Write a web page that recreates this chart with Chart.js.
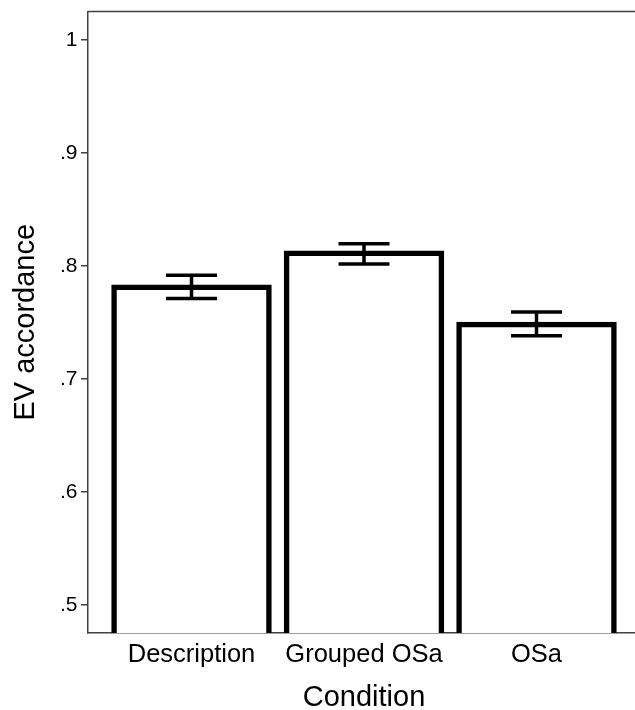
<!DOCTYPE html>
<html>
<head>
<meta charset="utf-8">
<script src="https://cdn.jsdelivr.net/npm/chart.js@4.4.1/dist/chart.umd.min.js"></script>
<style>
  html, body { margin: 0; padding: 0; overflow: hidden; background: #fff; }
  #wrap { width: 640px; height: 710px; }
</style>
</head>
<body>
<div id="wrap"><canvas id="evChart" width="640" height="710"></canvas></div>
<script>
// data
const categories = ['Description', 'Grouped OSa', 'OSa'];
const meanAccordance = [0.781, 0.811, 0.748];
const errLow = [0.771, 0.8015, 0.738];
const errHigh = [0.7915, 0.8195, 0.759];
const yTicks = [0.5, 0.6, 0.7, 0.8, 0.9, 1];

const axisColor = '#404040';
const fontFamily = '"Liberation Sans", Arial, sans-serif';

// error bars + top frame line
const errorBars = {
    id: 'errorBars',
    afterDatasetsDraw(chart) {
        const ctx = chart.ctx;
        const xs = chart.scales.x;
        const ys = chart.scales.y;
        ctx.save();
        ctx.strokeStyle = '#000';
        ctx.lineWidth = 3.5;
        categories.forEach((c, i) => {
            const x = xs.getPixelForValue(i + 1);
            const yLo = ys.getPixelForValue(errLow[i]);
            const yHi = ys.getPixelForValue(errHigh[i]);
            ctx.beginPath();
            ctx.moveTo(x, yLo);
            ctx.lineTo(x, yHi);
            ctx.moveTo(x - 25.5, yHi);
            ctx.lineTo(x + 25.5, yHi);
            ctx.moveTo(x - 25.5, yLo);
            ctx.lineTo(x + 25.5, yLo);
            ctx.stroke();
        });
        const area = chart.chartArea;
        ctx.strokeStyle = axisColor;
        ctx.lineWidth = 1.5;
        ctx.beginPath();
        ctx.moveTo(area.left, area.top);
        ctx.lineTo(area.right, area.top);
        ctx.stroke();
        ctx.restore();
    }
};

const ctx = document.getElementById('evChart').getContext('2d');
new Chart(ctx, {
    type: 'bar',
    data: {
        datasets: [{
            data: categories.map((c, i) => ({x: i + 1, y: meanAccordance[i]})),
            backgroundColor: '#fff',
            borderColor: '#000',
            borderWidth: 5.5,
            inflateAmount: 2.75,
            borderSkipped: 'start',
            barThickness: 155
        }]
    },
    options: {
        responsive: false,
        animation: false,
        layout: { padding: { top: 11.5, left: 0, right: 0, bottom: 0 } },
        plugins: {
            legend: { display: false },
            tooltip: { enabled: false }
        },
        scales: {
            x: {
                type: 'linear',
                offset: false,
                min: 0.4,
                max: 3.6,
                afterBuildTicks: (scale) => {
                    scale.ticks = categories.map((c, i) => ({value: i + 1}));
                },
                afterFit: (scale) => {
                    scale.height = 77;
                    scale.paddingLeft = 0;
                    scale.paddingRight = 0;
                },
                ticks: {
                    callback: (v) => categories[v - 1],
                    color: '#000',
                    font: { family: fontFamily, size: 25.5 },
                    padding: 7,
                    maxRotation: 0,
                    autoSkip: false
                },
                grid: { display: false, drawTicks: false, offset: false },
                border: { display: true, color: axisColor, width: 1.5 },
                title: {
                    display: true,
                    text: 'Condition',
                    color: '#000',
                    font: { family: fontFamily, size: 29, lineHeight: 0.8 },
                    padding: 0
                }
            },
            y: {
                min: 0.475,
                max: 1.025,
                afterBuildTicks: (scale) => {
                    scale.ticks = yTicks.map(v => ({value: v}));
                },
                afterFit: (scale) => {
                    scale.width = 88;
                    scale.paddingTop = 0;
                    scale.paddingBottom = 0;
                },
                ticks: {
                    callback: (v) => v === 1 ? '1' : v.toFixed(1).replace(/^0/, ''),
                    color: '#000',
                    font: { family: fontFamily, size: 21 },
                    padding: 3.5
                },
                grid: {
                    drawOnChartArea: false,
                    drawTicks: true,
                    tickLength: 7,
                    color: axisColor,
                    lineWidth: 1.5
                },
                border: { display: true, color: axisColor, width: 1.5 },
                title: {
                    display: true,
                    text: 'EV accordance',
                    color: '#000',
                    font: { family: fontFamily, size: 29, lineHeight: 0.8 },
                    padding: { top: 14, bottom: 0 }
                }
            }
        }
    },
    plugins: [errorBars]
});
</script>
</body>
</html>
